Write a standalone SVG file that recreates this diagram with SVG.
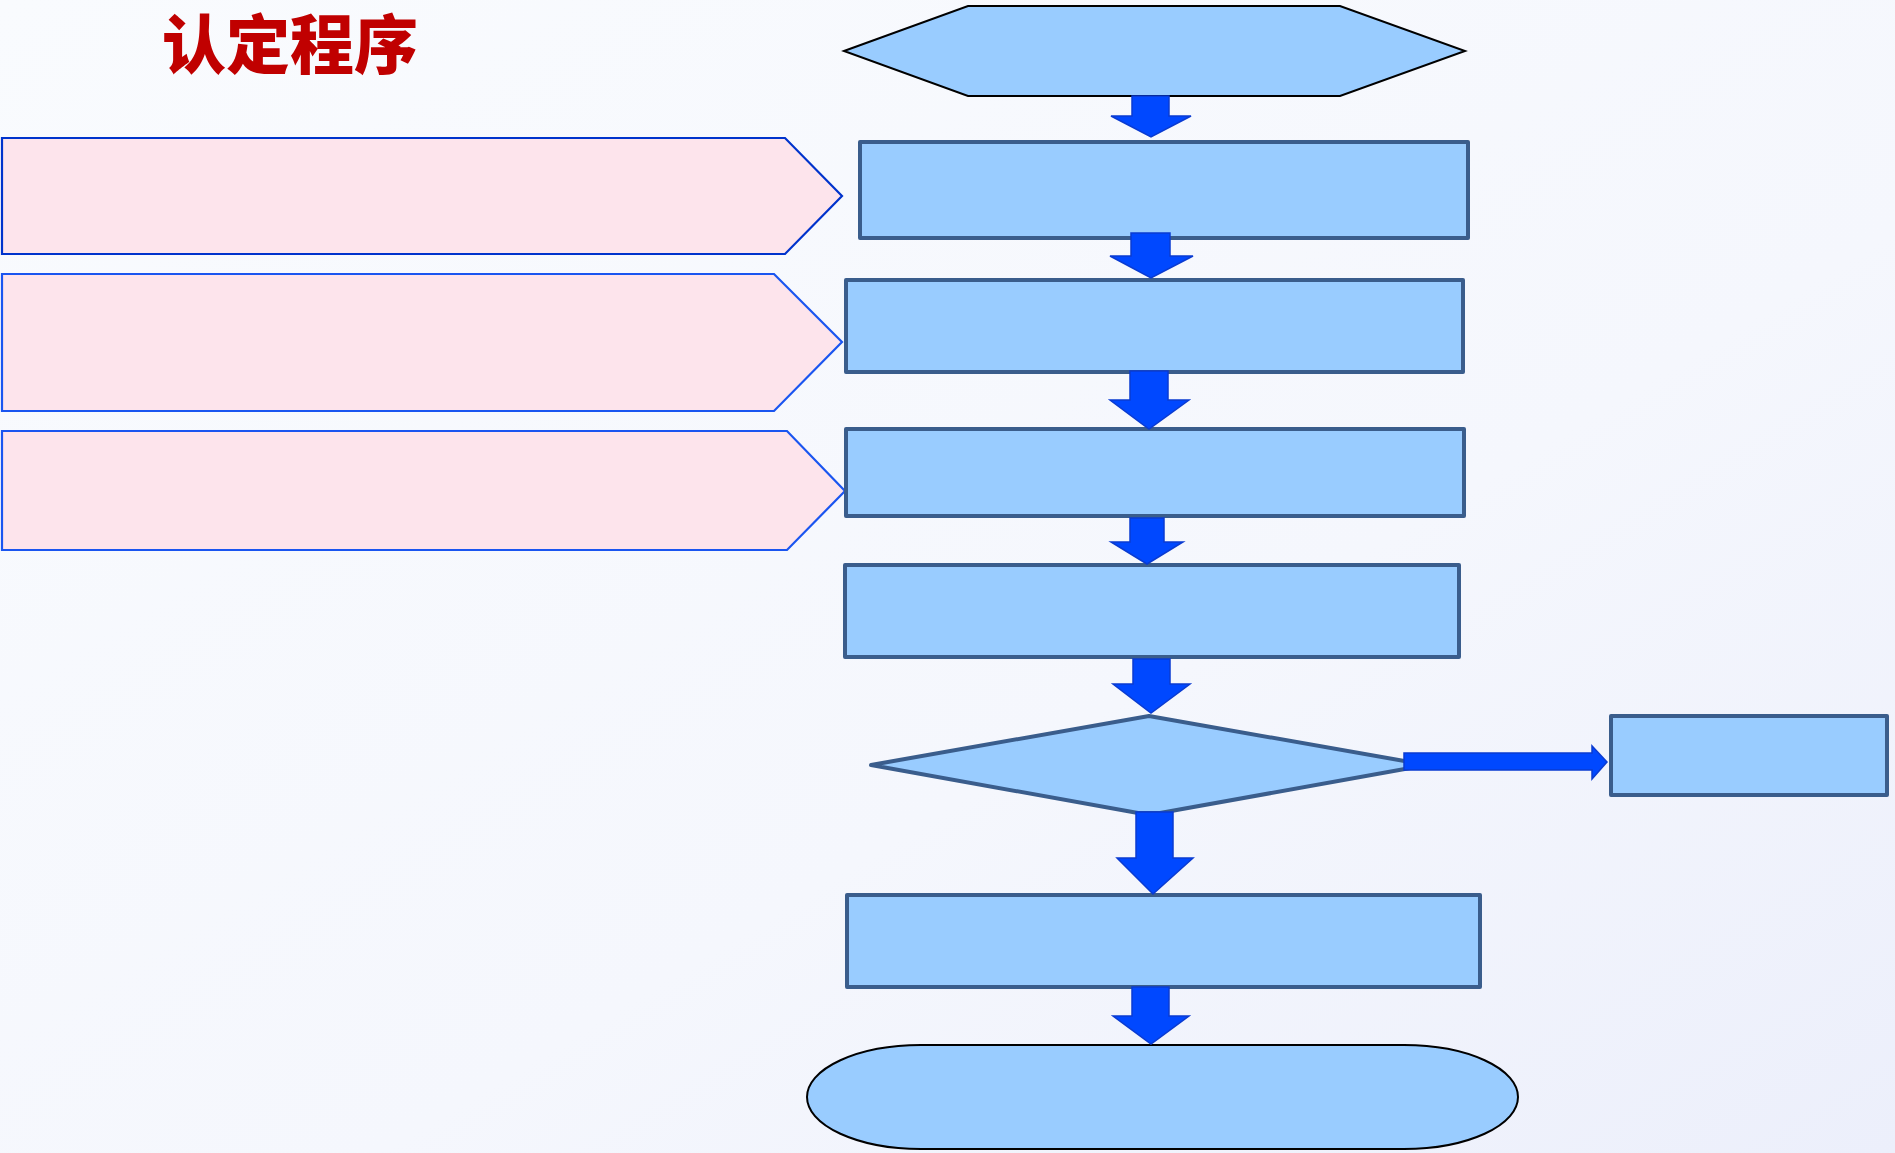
<svg xmlns="http://www.w3.org/2000/svg" width="1895" height="1153" viewBox="0 0 1895 1153">
<defs>
<linearGradient id="bg" x1="0" y1="0" x2="1" y2="1">
<stop offset="0" stop-color="#f9fbfe"/>
<stop offset="0.6" stop-color="#f5f7fd"/>
<stop offset="1" stop-color="#eceffb"/>
</linearGradient>
<style>
.box{fill:#99ccff;stroke:#3a5d8c;stroke-width:4;stroke-linejoin:round}
.thin{fill:#99ccff;stroke:#000;stroke-width:2}
.pink{fill:#fde4ec;stroke-width:2.2}
.arr{fill:#0048ff;stroke:#0a3bd1;stroke-width:1.5;stroke-linejoin:miter}
.title{font-family:"Noto Sans CJK SC","Noto Sans CJK TC",sans-serif;font-weight:900;fill:#c00000}
</style>
</defs>
<rect width="1895" height="1153" fill="url(#bg)"/>
<text class="title" x="162" y="68" font-size="64">认定程序</text>

<g id="side1"><polygon class="pink" stroke="#0033cc" points="2,138 785,138 842,196 785,254 2,254"/></g>
<g id="side2"><polygon class="pink" stroke="#1a55f0" points="2,274 774,274 842,342 774,411 2,411"/></g>
<g id="side3"><polygon class="pink" stroke="#1a55f0" points="2,431 787,431 845,491 787,550 2,550"/></g>

<g id="start"><polygon class="thin" points="844,51 968,6 1340,6 1465,51 1340,96 968,96"/></g>
<g id="step1"><rect class="box" x="860" y="142" width="608" height="96"/></g>
<g id="step2"><rect class="box" x="846" y="280" width="617" height="92"/></g>
<g id="step3"><rect class="box" x="846" y="429" width="618" height="87"/></g>
<g id="step4"><rect class="box" x="845" y="565" width="614" height="92"/></g>
<g id="decision"><polygon class="box" points="871,765 1149,716 1427,765 1160,813 1138,813"/></g>
<g id="side-result"><rect class="box" x="1611" y="716" width="276" height="79"/></g>
<g id="step5"><rect class="box" x="847" y="895" width="633" height="92"/></g>
<g id="end"><path class="thin" d="M921,1045 H1404 A114,52 0 0 1 1404,1149 H921 A114,52 0 0 1 921,1045 Z"/></g>

<g id="connectors">
<polygon class="arr" points="1132,96 1169,96 1169,116 1191,116 1151,137 1111,116 1132,116"/>
<polygon class="arr" points="1131,233 1170,233 1170,256 1193,256 1151,278 1110,256 1131,256"/>
<polygon class="arr" points="1130,371 1168,371 1168,400 1189,400 1149,429 1110,400 1130,400"/>
<polygon class="arr" points="1130,518 1164,518 1164,542 1183,542 1147,564 1111,542 1130,542"/>
<polygon class="arr" points="1133,659 1170,659 1170,684 1190,684 1151,713 1113,684 1133,684"/>
<polygon class="arr" points="1136,812 1173,812 1173,858 1193,858 1153,894 1117,858 1136,858"/>
<polygon class="arr" points="1132,987 1169,987 1169,1016 1189,1016 1151,1044 1113,1016 1132,1016"/>
<polygon class="arr" points="1404,753 1592,753 1592,746 1607,762 1592,779 1592,770 1404,770"/>
</g>
</svg>
